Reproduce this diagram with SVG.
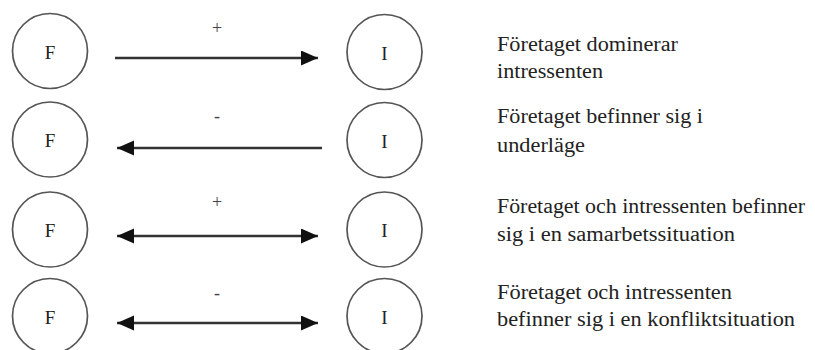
<svg xmlns="http://www.w3.org/2000/svg" width="815" height="350" viewBox="0 0 815 350">
<defs>
<marker id="ah" markerUnits="userSpaceOnUse" markerWidth="19" markerHeight="16" refX="17" refY="7.5" orient="auto-start-reverse">
<path d="M0,0 L17,7.5 L0,15 Z" fill="#111"/>
</marker>
<style>
.node circle{fill:none;stroke:#555;stroke-width:1.7}
.node text{font-family:"Liberation Serif",serif;font-size:19px;fill:#222;text-anchor:middle;dominant-baseline:central}
.conn line{stroke:#333;stroke-width:2.5}
.lbl{font-family:"Liberation Serif",serif;font-size:18px;fill:#444;text-anchor:middle;dominant-baseline:central}
.desc{font-family:"Liberation Serif",serif;font-size:20px;fill:#222}
</style>
</defs>
<rect width="815" height="350" fill="#fff"/>
<g id="F1" class="node"><circle cx="50" cy="51" r="37.5"/><text x="50" y="52">F</text></g>
<g id="I1" class="node"><circle cx="384.5" cy="52" r="37.5"/><text x="384.5" y="53">I</text></g>
<g id="F2" class="node"><circle cx="50" cy="139.5" r="37.5"/><text x="50" y="140">F</text></g>
<g id="I2" class="node"><circle cx="384.5" cy="140" r="37.5"/><text x="384.5" y="141">I</text></g>
<g id="F3" class="node"><circle cx="50" cy="229.5" r="37.5"/><text x="50" y="230">F</text></g>
<g id="I3" class="node"><circle cx="384.5" cy="229.5" r="37.5"/><text x="384.5" y="230">I</text></g>
<g id="F4" class="node"><circle cx="50" cy="316" r="37.5"/><text x="50" y="317">F</text></g>
<g id="I4" class="node"><circle cx="384.5" cy="316" r="37.5"/><text x="384.5" y="317">I</text></g>
<g id="connectors" class="conn">
<line x1="115" y1="58" x2="318" y2="58" marker-end="url(#ah)"/>
<line x1="322" y1="148" x2="117" y2="148" marker-end="url(#ah)"/>
<line x1="117" y1="236" x2="318" y2="236" marker-start="url(#ah)" marker-end="url(#ah)"/>
<line x1="117" y1="323" x2="318" y2="323" marker-start="url(#ah)" marker-end="url(#ah)"/>
</g>
<g id="labels">
<text class="lbl" x="217" y="28">+</text>
<text class="lbl" x="217" y="116">-</text>
<text class="lbl" x="217" y="202">+</text>
<text class="lbl" x="217" y="293">-</text>
</g>
<g id="descriptions" class="desc">
<text x="497" y="51" textLength="181" lengthAdjust="spacingAndGlyphs">Företaget dominerar</text>
<text x="497" y="78" textLength="106" lengthAdjust="spacingAndGlyphs">intressenten</text>
<text x="497" y="123" textLength="206" lengthAdjust="spacingAndGlyphs">Företaget befinner sig i</text>
<text x="497" y="152" textLength="88" lengthAdjust="spacingAndGlyphs">underläge</text>
<text x="497" y="213" textLength="308" lengthAdjust="spacingAndGlyphs">Företaget och intressenten befinner</text>
<text x="497" y="241" textLength="238" lengthAdjust="spacingAndGlyphs">sig i en samarbetssituation</text>
<text x="497" y="299" textLength="235" lengthAdjust="spacingAndGlyphs">Företaget och intressenten</text>
<text x="497" y="326" textLength="298" lengthAdjust="spacingAndGlyphs">befinner sig i en konfliktsituation</text>
</g>
</svg>
